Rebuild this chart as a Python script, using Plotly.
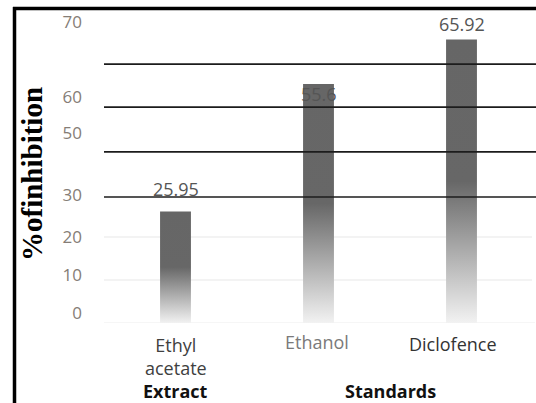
import plotly.graph_objects as go

# ---- data -------------------------------------------------------------
categories = ["Ethyl<br>acetate", "Ethanol", "Diclofence"]
inhibition = [25.95, 55.6, 65.92]
groups = ["Extract", "Standards"]
group_centers = [0, 1.5]          # category index each group label sits under

# y-axis labels as printed, and the heights they are printed at
tick_text = ["0", "10", "20", "30", "50", "60", "70"]
tick_vals = [2.3, 11.2, 20.0, 29.8, 44.2, 52.6, 70.0]

# ruled lines across the plot (heavy) and light guide lines
heavy_rules = [60.2, 50.2, 39.8, 29.3]
light_rules = [10.0, 20.0]

# ---- styling ------------------------------------------------------------
W, H = 536, 403
L, R, T, B = 104, 3, 22, 80
PW, PH = W - L - R, H - T - B

def px_x(px):
    return (px - L) / PW

def px_y(py):
    return (H - B - py) / PH

label_offsets = [22, -10, 16]           # value label shift above bar top (px)
cat_colors = ["#404040", "#7a7a7a", "#333333"]
cat_yshifts = [-33, -19, -21]
cat_xshifts = [0, -2, -9]
half_w = 0.108
bar_scale = [[0.0, "#f2f2f2"], [0.5, "#676767"], [1.0, "#666666"]]

fig = go.Figure()

for i, v in enumerate(inhibition):
    fig.add_trace(go.Scatter(
        x=[i - half_w, i - half_w, i + half_w, i + half_w, i - half_w],
        y=[0, v, v, 0, 0],
        mode="lines",
        line=dict(width=0, color="rgba(0,0,0,0)"),
        fill="toself",
        fillgradient=dict(type="vertical", colorscale=bar_scale),
        hoverinfo="skip",
        showlegend=False,
    ))

shapes = []
for v in light_rules:
    shapes.append(dict(type="line", xref="paper", yref="y", x0=0, x1=px_x(532),
                       y0=v, y1=v, line=dict(color="#efefef", width=1.5), layer="below"))
shapes.append(dict(type="line", xref="paper", yref="y", x0=0, x1=px_x(535),
                   y0=-0.15, y1=-0.15, line=dict(color="#d9d9d9", width=2), layer="below"))
for v in heavy_rules:
    shapes.append(dict(type="line", xref="paper", yref="y", x0=0, x1=px_x(536),
                       y0=v, y1=v, line=dict(color="#1c1c1c", width=1.6), layer="above"))
# outer frame: top and left edges
shapes.append(dict(type="line", xref="paper", yref="paper", x0=px_x(13), x1=px_x(537),
                   y0=px_y(8.5), y1=px_y(8.5), line=dict(color="#000000", width=3.5)))
shapes.append(dict(type="line", xref="paper", yref="paper", x0=px_x(14.5), x1=px_x(14.5),
                   y0=px_y(7), y1=px_y(404), line=dict(color="#000000", width=3.5)))

annotations = []
for i, v in enumerate(inhibition):
    annotations.append(dict(x=i, y=v, xref="x", yref="y", text=f"{v:g}",
                            showarrow=False, yanchor="middle", yshift=label_offsets[i],
                            font=dict(family="Open Sans", size=18, color="#555555")))
for i, c in enumerate(categories):
    annotations.append(dict(x=i, y=0, xref="x", yref="y", text=c, showarrow=False,
                            yanchor="middle", yshift=cat_yshifts[i], xshift=cat_xshifts[i],
                            borderpad=0,
                            font=dict(family="Open Sans", size=18, color=cat_colors[i])))
for g, gx in zip(groups, group_centers):
    annotations.append(dict(x=gx, y=0, xref="x", yref="y", text=f"<b>{g}</b>",
                            showarrow=False, yanchor="middle", yshift=-68, borderpad=0,
                            font=dict(family="Open Sans", size=18, color="#111111")))
annotations.append(dict(x=px_x(32), y=px_y(174), xref="paper", yref="paper",
                        text="<b>%ofinhibition</b>", textangle=-90, showarrow=False,
                        xanchor="center", yanchor="middle",
                        font=dict(family="Liberation Serif", size=29, color="#000000")))

fig.update_layout(
    width=W, height=H,
    margin=dict(l=L, r=R, t=T, b=B, pad=0),
    paper_bgcolor="white", plot_bgcolor="white",
    showlegend=False,
    xaxis=dict(range=[-0.5, 2.5], showgrid=False, zeroline=False, showline=False,
               showticklabels=False, fixedrange=True),
    yaxis=dict(range=[0, 70], showgrid=False, zeroline=False, showline=False,
               tickmode="array", tickvals=tick_vals, ticktext=tick_text,
               ticks="", ticklabelstandoff=21,
               tickfont=dict(family="Open Sans", size=17, color="#857d76"),
               fixedrange=True),
    shapes=shapes,
    annotations=annotations,
)

fig.write_html("out.html")
